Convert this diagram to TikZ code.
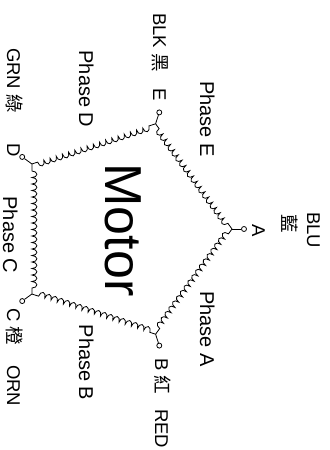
\documentclass[tikz,border=0pt]{standalone}
\usepackage{fontspec}
\setmainfont{Liberation Sans}
\newfontfamily\cjk{Noto Sans CJK TC}
\usetikzlibrary{decorations.pathmorphing}
\begin{document}
\begin{tikzpicture}[x=1bp,y=-1bp,
  coilline/.style={line width=0.8bp, decorate, decoration={bumps, mirror, segment length=13bp, amplitude=5bp, pre length=6bp, post length=6bp}},
  leadline/.style={line width=0.8bp},
  term/.style={circle, draw, fill=white, line width=0.8bp, inner sep=0pt, minimum size=5bp},
  phaselbl/.style={rotate=-90, anchor=base, inner sep=0pt, font=\fontsize{20bp}{24bp}\selectfont},
  wirelbl/.style={rotate=-90, anchor=base west, inner sep=0pt, font=\fontsize{18.5bp}{22bp}\selectfont},
  wirelblc/.style={rotate=-90, anchor=base, inner sep=0pt, font=\fontsize{18.5bp}{22bp}\selectfont},
  motorlbl/.style={rotate=-90, anchor=base, inner sep=0pt, font=\fontsize{52bp}{60bp}\selectfont},
]
\useasboundingbox (0,0) rectangle (329,450);
\coordinate (ctr) at (121.4,229);
\foreach \n/\a in {A/0,B/72,C/144,D/216,E/288}{
  \path (ctr) ++(\a:110.6) coordinate (\n);
  \path (ctr) ++(\a:122.6) node[term] (t\n) {};
  \draw[leadline] (\n) -- (t\n);
}
\draw[coilline] (A) -- (B);
\draw[coilline] (B) -- (C);
\draw[coilline] (C) -- (D);
\draw[coilline] (D) -- (E);
\draw[coilline] (E) -- (A);

\node[motorlbl] (motor) at (105,230) {Motor};

\node[phaselbl] (pA) at (200,329) {Phase A};
\node[phaselbl] (pB) at (79,362.5) {Phase B};
\node[phaselbl] (pC) at (3,235) {Phase C};
\node[phaselbl] (pD) at (79,89) {Phase D};
\node[phaselbl] (pE) at (200,119) {Phase E};

\node[wirelbl] (lE1) at (153,13) {BLK {\cjk 黑}};
\node[wirelbl] (lE2) at (153,88) {E};
\node[wirelbl] (lD1) at (7,48) {GRN {\cjk 綠}};
\node[wirelbl] (lD2) at (7,143) {D};
\node[wirelbl] (lC1) at (7,308) {C {\cjk 橙}};
\node[wirelbl] (lC2) at (7,365) {ORN};
\node[wirelbl] (lB1) at (155,358) {B {\cjk 紅}};
\node[wirelbl] (lB2) at (155,409) {RED};
\node[wirelblc] (lA1) at (307,230) {BLU};
\node[wirelblc] (lA2) at (282,224) {\cjk 藍};
\node[wirelblc] (lA3) at (252,231) {A};
\end{tikzpicture}
\end{document}
